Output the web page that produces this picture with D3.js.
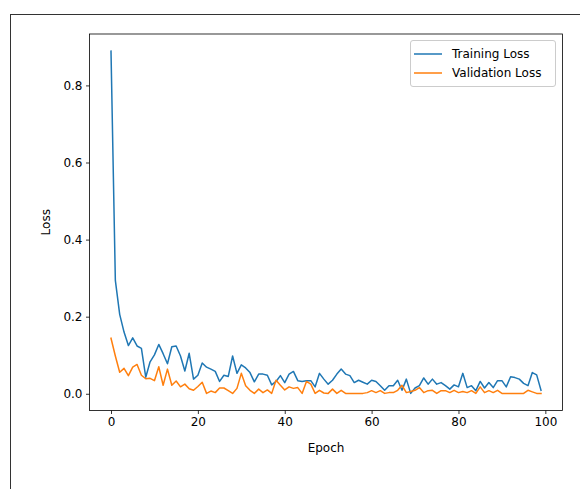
<!DOCTYPE html>
<html><head><meta charset="utf-8">
<script src="https://cdn.jsdelivr.net/npm/d3@7"></script>
<style>body{margin:0;background:#fff}svg{display:block;font-family:"DejaVu Sans",sans-serif}</style>
</head><body><svg id="c" width="580" height="489"></svg>
<script>
const trainLoss = [0.889,0.294,0.206,0.160,0.125,0.145,0.124,0.118,0.043,0.083,0.101,0.128,0.104,0.078,0.122,0.124,0.098,0.059,0.105,0.038,
0.048,0.080,0.069,0.064,0.058,0.032,0.048,0.045,0.098,0.053,0.075,0.067,0.055,0.031,0.051,0.051,0.048,0.023,0.032,0.047,
0.029,0.051,0.058,0.034,0.032,0.034,0.034,0.018,0.053,0.038,0.025,0.035,0.051,0.064,0.051,0.047,0.029,0.035,0.030,0.025,
0.035,0.032,0.021,0.009,0.021,0.021,0.035,0.009,0.038,0.001,0.015,0.021,0.041,0.025,0.038,0.025,0.029,0.021,0.012,0.023,
0.018,0.053,0.016,0.021,0.008,0.032,0.015,0.029,0.016,0.034,0.034,0.018,0.044,0.042,0.038,0.027,0.021,0.055,0.049,0.009];
const valLoss = [0.144,0.098,0.056,0.066,0.047,0.069,0.076,0.048,0.039,0.040,0.034,0.070,0.022,0.064,0.022,0.033,0.018,0.025,0.013,0.009,
0.019,0.030,0.001,0.007,0.003,0.015,0.015,0.008,0.001,0.014,0.053,0.021,0.009,0.001,0.012,0.003,0.010,0.001,0.035,0.022,
0.010,0.018,0.014,0.016,0.001,0.032,0.025,0.001,0.009,0.002,0.001,0.012,0.001,0.009,0.001,0.001,0.001,0.001,0.001,0.003,
0.008,0.003,0.008,0.001,0.003,0.003,0.009,0.022,0.003,0.006,0.009,0.016,0.003,0.008,0.009,0.001,0.008,0.008,0.003,0.009,
0.003,0.006,0.003,0.008,0.001,0.018,0.003,0.008,0.003,0.009,0.001,0.001,0.001,0.001,0.001,0.001,0.009,0.005,0.001,0.001];
const xTicks = [0,20,40,60,80,100];
const yTicks = [0.0,0.2,0.4,0.6,0.8];
const seriesNames = ["Training Loss","Validation Loss"];
const colors = ["#1f77b4","#ff7f0e"];

const svg = d3.select("#c");
const L = 89.5, R = 562.5, T = 34, B = 410.5;
const epochs = d3.range(trainLoss.length);
const all = trainLoss.concat(valLoss);
const ymin = d3.min(all), ymax = d3.max(all);
const xm = (epochs.length-1)*0.05, ym = (ymax-ymin)*0.05;
const x = d3.scaleLinear().domain([-xm, epochs.length-1+xm]).range([L,R]);
const y = d3.scaleLinear().domain([ymin-ym, ymax+ym]).range([B,T]);

// figure border
svg.append("rect").attr("x",10.5).attr("y",14.5).attr("width",600).attr("height",500)
  .attr("fill","none").attr("stroke","#333").attr("stroke-width",1);

const line = d3.line().x((d,i)=>x(i)).y(d=>y(d));
[trainLoss,valLoss].forEach((s,k)=>{
  svg.append("path").datum(s).attr("d",line).attr("fill","none")
    .attr("stroke",colors[k]).attr("stroke-width",1.5).attr("stroke-linejoin","round").attr("stroke-linecap","square");
});

const xa = svg.append("g").attr("transform",`translate(0,${B})`)
  .call(d3.axisBottom(x).tickValues(xTicks).tickSize(3.5).tickPadding(3.5).tickFormat(d3.format("d")));
const ya = svg.append("g").attr("transform",`translate(${L},0)`)
  .call(d3.axisLeft(y).tickValues(yTicks).tickSize(3.5).tickPadding(3.5).tickFormat(d3.format(".1f")));
[xa,ya].forEach(a=>{
  a.select(".domain").remove();
  a.selectAll("line").attr("stroke","#000").attr("stroke-width",0.8);
  a.selectAll("text").attr("font-size",12).attr("fill","#000").attr("font-family","DejaVu Sans");
});
svg.append("rect").attr("x",L).attr("y",T).attr("width",R-L).attr("height",B-T)
  .attr("fill","none").attr("stroke","#000").attr("stroke-width",0.8);

svg.append("text").attr("x",(L+R)/2).attr("y",452).attr("text-anchor","middle")
  .attr("font-size",12).text("Epoch");
svg.append("text").attr("transform",`translate(50,${(T+B)/2}) rotate(-90)`).attr("text-anchor","middle")
  .attr("font-size",12).text("Loss");

// legend
const lg = svg.append("g");
lg.append("rect").attr("x",410.5).attr("y",40.5).attr("width",145).attr("height",46).attr("rx",2.5)
  .attr("fill","#fff").attr("fill-opacity",0.8).attr("stroke","#ccc").attr("stroke-width",1);
seriesNames.forEach((n,k)=>{
  const cy = 54 + k*19;
  lg.append("line").attr("x1",414).attr("x2",442).attr("y1",cy).attr("y2",cy)
    .attr("stroke",colors[k]).attr("stroke-width",1.5);
  lg.append("text").attr("x",452).attr("y",cy+4.3).attr("font-size",12).text(n);
});
</script></body></html>
